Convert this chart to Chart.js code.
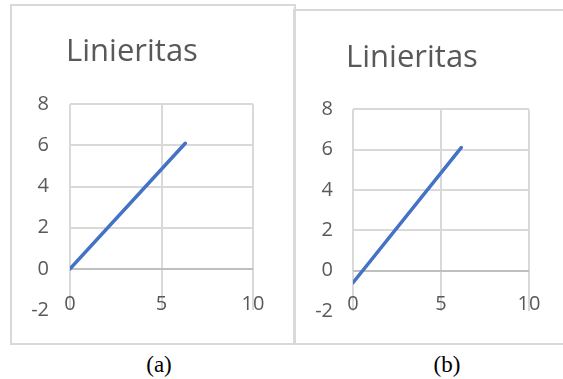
<!DOCTYPE html>
<html>
<head>
<meta charset="utf-8">
<script src="https://cdn.jsdelivr.net/npm/chart.js@4.4.1/dist/chart.umd.min.js"></script>
<style>
  html, body { margin: 0; padding: 0; background: #fff; overflow: hidden; width: 563px; height: 379px; position: relative; }
  .panel { position: absolute; box-sizing: border-box; border: 2px solid #d9d9d9; }
  canvas { position: absolute; }
  .cap { position: absolute; font-family: "Liberation Serif", "Times New Roman", serif; font-size: 23px; line-height: 26px; color: #000; transform: translateX(-50%); white-space: nowrap; }
</style>
</head>
<body>
<div class="panel" style="left:10px;top:4px;width:286px;height:341px"></div>
<div class="panel" style="left:293px;top:9px;width:300px;height:336px"></div>
<canvas id="chartA" width="283" height="338" style="left:11px;top:5px"></canvas>
<canvas id="chartB" width="278" height="333" style="left:295px;top:10px"></canvas>
<div class="cap" style="left:159px;top:352px">(a)</div>
<div class="cap" style="left:447px;top:352px">(b)</div>
<script>
// Chart title and axis tick values
const chartTitle = 'Linieritas';
const xTickValues = [0, 5, 10];
const yTickValues = [-2, 0, 2, 4, 6, 8];

// Series (a): line through the origin
const seriesAx = [0, 6.3];
const seriesAy = [0, 6.1];

// Series (b): line with a negative intercept
const seriesBx = [0, 6.15];
const seriesBy = [-0.6, 6.1];

const textGrey = '#595959';
const gridGrey = '#d9d9d9';
const axisGrey = '#bfbfbf';
const sansStack = '"Open Sans", "Noto Sans", sans-serif';

function makeChart(id, xs, ys, lay) {
  const points = xs.map((x, i) => ({ x: x, y: ys[i] }));
  return new Chart(document.getElementById(id), {
    type: 'line',
    data: {
      datasets: [{
        data: points,
        borderColor: '#4472C4',
        borderWidth: 3.5,
        borderCapStyle: 'round',
        pointRadius: 0,
        fill: false,
        tension: 0
      }]
    },
    options: {
      responsive: false,
      animation: false,
      devicePixelRatio: 1,
      layout: { padding: { left: 0, right: lay.rightPad, top: 0, bottom: 0 } },
      plugins: {
        legend: { display: false },
        tooltip: { enabled: false },
        title: {
          display: true,
          text: chartTitle,
          color: textGrey,
          font: { family: sansStack, size: 31, weight: '400' },
          padding: { top: lay.titleTop, bottom: lay.titleBottom }
        }
      },
      scales: {
        x: {
          type: 'linear',
          min: xTickValues[0],
          max: xTickValues[xTickValues.length - 1],
          afterBuildTicks: s => { s.ticks = xTickValues.map(v => ({ value: v })); },
          afterFit: s => { s.height = lay.xHeight; },
          border: { display: false },
          grid: { color: gridGrey, lineWidth: 2, drawTicks: false },
          ticks: {
            color: textGrey,
            mirror: true,           // labels sit just inside the bottom of the plot
            padding: lay.xPad,
            maxRotation: 0,
            autoSkip: false,
            font: { family: sansStack, size: 20 }
          }
        },
        y: {
          type: 'linear',
          min: yTickValues[0],
          max: yTickValues[yTickValues.length - 1],
          afterBuildTicks: s => { s.ticks = yTickValues.map(v => ({ value: v })); },
          afterFit: s => { s.width = lay.yWidth; },
          border: { display: false },
          grid: {
            lineWidth: 2,
            drawTicks: false,
            color: c => {
              const v = c.tick ? c.tick.value : null;
              if (v === 0) return axisGrey;
              if (v === yTickValues[0]) return 'rgba(0,0,0,0)';
              return gridGrey;
            }
          },
          ticks: {
            color: textGrey,
            padding: lay.yPad,
            font: { family: sansStack, size: 20 }
          }
        }
      }
    }
  });
}

makeChart('chartA', seriesAx, seriesAy, {
  rightPad: 41, yWidth: 59, xHeight: 29, yPad: 21, xPad: -6, titleTop: 29, titleBottom: 33
});
makeChart('chartB', seriesBx, seriesBy, {
  rightPad: 44, yWidth: 58, xHeight: 28, yPad: 20, xPad: -5, titleTop: 30, titleBottom: 32
});
</script>
</body>
</html>
